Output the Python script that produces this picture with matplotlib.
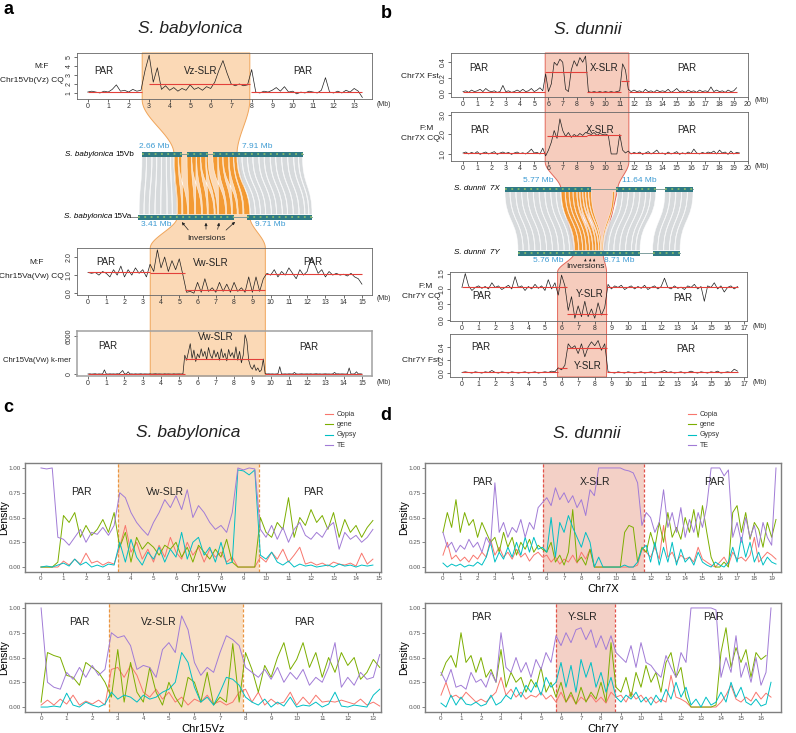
import numpy as np
import matplotlib
matplotlib.use("Agg")
import matplotlib.pyplot as plt
from matplotlib.patches import Polygon, PathPatch, Rectangle
from matplotlib.path import Path

plt.rcParams["font.family"] = ["Liberation Sans", "DejaVu Sans"]

W, H = 796, 733
RED = "#e3403a"
BLUE = "#3d9bd3"
TE_NAMES = ["Copia", "gene", "Gypsy", "TE"]
TE_COLORS = ["#F8766D", "#7CAE00", "#00BFC4", "#A17BD6"]

# ---------------- panel a tracks (step 0.2 Mb, k-mer step 0.1 Mb) ----------------
A1_CQ = [1.1, 1.2, 1.1, 1.0, 1.2, 1.1, 1.4, 1.9, 1.2, 1.3,
         1.1, 1.4, 1.2, 1.3, 3.5, 5.2, 2.2, 3.8, 1.4, 1.8,
         1.3, 1.6, 1.2, 1.5, 1.3, 1.9, 1.4, 1.6, 1.3, 1.7,
         1.5, 2.2, 3.5, 4.6, 3.2, 2.0, 1.8, 2.0, 1.8, 1.9,
         3.6, 1.1, 1.0, 1.2, 1.1, 1.3, 1.6, 1.2, 1.7, 1.1,
         1.2, 0.9, 1.1, 1.0, 1.2, 1.1, 1.0, 1.3, 2.7, 1.1,
         1.0, 1.2, 1.0, 1.3, 1.1, 1.5, 1.2, 0.5]
A1_MED = ([0.0, 3.0, 7.95], [2.65, 7.9, 13.4], [1.15, 2.05, 1.15])

A3_CQ = [1.15, 1.1, 1.15, 1.0, 1.2, 1.1, 0.9, 1.3, 1.0, 1.5,
         0.9, 1.3, 1.0, 1.4, 1.1, 1.3, 0.9, 1.6, 1.2, 2.4,
         1.4, 2.0, 1.2, 1.8, 1.3, 1.9, 1.0, 0.05, 0.1, 0.0,
         0.6, 0.05, 0.8, 0.1, 0.3, 0.05, 0.6, 0.1, 0.5, 0.05,
         0.6, 0.1, 0.3, 0.05, 0.9, 0.05, 0.9, 0.1, 0.8, 1.1,
         1.0, 1.3, 0.9, 1.2, 1.0, 1.4, 1.1, 0.8, 1.3, 1.0,
         1.2, 1.9, 1.6, 1.1, 1.3, 0.9, 1.2, 1.0, 1.1, 1.0,
         1.05, 0.95, 1.1, 0.9, 0.8, 0.5]
A3_MED = ([0.0, 3.41, 5.3, 9.71], [3.41, 5.3, 9.71, 15.0], [1.15, 1.1, 0.2, 1.05])

A4_KMER = [50, 80, 40, 60, 90, 30, 70, 50, 60, 700,
           60, 40, 80, 50, 70, 40, 90, 60, 300, 600,
           80, 50, 400, 60, 70, 40, 80, 50, 60, 90,
           40, 70, 60, 50, 80, 40, 60, 90, 50, 70,
           60, 40, 80, 50, 70, 60, 40, 80, 50, 60,
           70, 50, 80, 3000, 2200, 3500, 4800, 2500, 3800, 2000,
           3200, 2600, 4000, 2800, 3600, 2300, 4200, 3000, 2500, 3800,
           2700, 3500, 2200, 4000, 2600, 3300, 2100, 3900, 2800, 3400,
           2500, 4300, 2200, 3600, 1800, 3000, 6200, 5200, 2200, 1200,
           800, 1500, 600, 1000, 400, 700, 2400, 100, 60, 80,
           50, 70, 40, 60, 80, 1200, 60, 50, 70, 40,
           80, 60, 50, 300, 70, 40, 60, 80, 50, 60,
           70, 50, 80, 40, 60, 90, 50, 70, 40, 60,
           80, 50, 60, 40, 70, 300, 60, 80, 50, 70,
           60, 40, 80, 1000, 60, 50, 70, 400, 60, 80,
           50]
A4_MED = ([0.0, 5.3, 9.71], [5.3, 9.6, 15.0], [0, 2400, 0])

# ---------------- panel b tracks (step 0.2 Mb) ----------------
B1_FST = [0.02, 0.03, 0.01, 0.04, 0.02, 0.03, 0.05, 0.02, 0.06, 0.03,
          0.02, 0.03, 0.01, 0.02, 0.10, 0.02, 0.03, 0.01, 0.02, 0.04,
          0.02, 0.05, 0.02, 0.03, 0.06, 0.02, 0.04, 0.07, 0.03, 0.25,
          0.02, 0.12, 0.40, 0.36, 0.44, 0.40, 0.05, 0.02, 0.30, 0.42,
          0.35, 0.46, 0.40, 0.48, 0.02, 0.01, 0.02, 0.01, 0.02, 0.01,
          0.02, 0.01, 0.02, 0.01, 0.02, 0.03, 0.38, 0.30, 0.05, 0.02,
          0.04, 0.02, 0.03, 0.01, 0.05, 0.02, 0.03, 0.01, 0.04, 0.02,
          0.03, 0.02, 0.05, 0.01, 0.03, 0.06, 0.02, 0.03, 0.01, 0.04,
          0.02, 0.03, 0.01, 0.04, 0.02, 0.03, 0.02, 0.08, 0.02, 0.04,
          0.02, 0.03, 0.01, 0.04, 0.02, 0.03, 0.07]
B1_MED = ([0.0, 5.77, 8.7, 11.1, 11.64], [5.77, 8.7, 11.1, 11.64, 19.2],
          [0.02, 0.27, 0.02, 0.16, 0.02])

B2_CQ = [1.05, 1.1, 1.0, 1.08, 1.02, 1.12, 0.98, 1.05, 1.1, 1.0,
         1.06, 1.12, 0.98, 1.05, 1.1, 1.03, 1.08, 0.98, 1.05, 1.1,
         1.02, 1.06, 1.0, 1.1, 1.25, 1.05, 1.08, 1.0, 1.3, 0.9,
         1.2, 1.6, 2.2, 1.8, 2.8, 2.2, 1.9, 2.1, 1.85, 2.0,
         1.9, 2.05, 1.95, 2.1, 2.05, 2.0, 2.1, 1.95, 2.05, 2.0,
         2.02, 1.95, 1.0, 1.0, 1.0, 2.0, 1.2, 1.05, 1.15, 1.0,
         1.08, 1.02, 1.1, 0.98, 1.05, 1.12, 1.0, 1.08, 1.2, 1.02,
         1.05, 0.98, 1.1, 1.0, 1.05, 1.12, 0.98, 1.06, 1.0, 1.1,
         1.02, 1.25, 1.05, 1.0, 1.08, 1.02, 1.1, 1.05, 1.15, 1.0,
         1.2, 1.05, 1.1, 0.98, 1.15, 1.0, 1.08, 1.05]
B2_MED = ([0.0, 5.9, 8.7, 11.64], [5.77, 8.7, 11.1, 19.4], [1.05, 1.9, 1.97, 1.05])

B3_CQ = [1.05, 1.5, 1.1, 0.95, 1.05, 1.1, 1.02, 1.08, 1.0, 1.2,
         1.05, 1.1, 0.98, 1.05, 1.12, 1.0, 1.4, 1.05, 1.1, 0.95,
         1.08, 1.0, 1.15, 1.02, 1.1, 0.95, 1.3, 1.0, 1.2, 0.8,
         1.45, 1.1, 0.3, 0.75, 0.05, 0.45, 0.1, 0.6, 0.1, 0.35,
         0.05, 0.55, 0.15, 0.4, 1.15, 1.0, 1.1, 1.05, 1.12, 0.98,
         1.05, 1.1, 1.0, 1.08, 1.02, 1.12, 0.98, 1.05, 1.1, 1.0,
         1.08, 1.35, 1.05, 1.0, 1.1, 1.02, 1.06, 0.98, 1.1, 1.05,
         1.15, 1.0, 1.08, 0.6, 1.1, 1.05, 1.2, 1.0, 1.1, 0.9,
         1.05, 1.1, 1.0, 1.08]
B3_MED = ([0.0, 5.76, 6.3, 8.71], [5.76, 6.3, 8.71, 16.6], [1.07, 1.07, 0.2, 1.07])

B4_FST = [0.01, 0.02, 0.01, 0.0, 0.02, 0.01, 0.0, 0.02, 0.01, 0.04,
          0.01, 0.0, 0.02, 0.01, 0.0, 0.02, 0.01, 0.0, 0.01, 0.02,
          0.0, 0.01, 0.02, 0.0, 0.01, 0.02, 0.01, 0.03, 0.02, 0.08,
          0.05, 0.12, 0.45, 0.38, 0.42, 0.30, 0.45, 0.25, 0.40, 0.48,
          0.42, 0.50, 0.35, 0.45, 0.02, 0.01, 0.0, 0.02, 0.01, 0.0,
          0.02, 0.01, 0.0, 0.01, 0.02, 0.0, 0.01, 0.02, 0.0, 0.01,
          0.02, 0.04, 0.01, 0.02, 0.0, 0.01, 0.02, 0.0, 0.01, 0.03,
          0.01, 0.0, 0.02, 0.01, 0.0, 0.02, 0.01, 0.03, 0.0, 0.01,
          0.02, 0.01, 0.06, 0.03]
B4_MED = ([0.0, 5.76, 6.3, 8.71], [5.76, 6.3, 8.71, 16.6], [0.01, 0.08, 0.38, 0.01])

# ---------------- synteny (Mb) ----------------
VB_LEN, VA_LEN, X7_LEN, Y7_LEN = 13.4, 15.1, 19.4, 16.6
VB_SEGS = [(0.0, 3.3), (3.75, 5.5), (5.9, 13.4)]
VA_SEGS = [(0.0, 8.3), (9.5, 15.1)]
X7_SEGS = [(0.0, 8.9), (11.5, 15.6), (16.5, 19.4)]
Y7_SEGS = [(0.0, 12.5), (13.8, 16.6)]
A_GRAY = [(0.0, 0.35, 0.1, 0.5), (0.4, 0.8, 0.55, 0.95), (0.85, 1.2, 1.0, 1.45),
          (1.25, 1.6, 1.5, 1.95), (1.65, 2.0, 2.0, 2.5), (2.05, 2.35, 2.55, 2.95),
          (2.4, 2.64, 3.0, 3.38), (7.95, 8.3, 9.75, 10.15), (8.35, 8.75, 10.2, 10.6),
          (8.8, 9.2, 10.65, 11.05), (9.25, 9.7, 11.1, 11.55), (9.75, 10.15, 11.6, 12.0),
          (10.2, 10.65, 12.05, 12.5), (10.7, 11.1, 12.55, 12.95), (11.15, 11.6, 13.0, 13.45),
          (11.65, 12.1, 13.5, 13.95), (12.15, 12.6, 14.0, 14.45), (12.65, 13.0, 14.5, 14.8),
          (13.05, 13.35, 14.85, 15.1)]
A_ORANGE = [(2.7, 3.0, 3.45, 3.8), (3.05, 3.3, 4.3, 3.9), (3.75, 4.1, 4.4, 4.9),
            (4.15, 4.5, 5.5, 5.0), (4.55, 4.85, 5.6, 6.0), (4.9, 5.3, 6.6, 6.1),
            (5.35, 5.5, 6.7, 6.9), (5.9, 6.3, 7.6, 7.0), (6.35, 6.7, 7.7, 8.1),
            (6.75, 7.2, 8.6, 8.2), (7.25, 7.6, 8.7, 9.1), (7.65, 7.9, 9.2, 9.7)]
B_GRAY = [(0.0, 0.5, 0.0, 0.5), (0.55, 1.1, 0.55, 1.1), (1.15, 1.7, 1.15, 1.7),
          (1.75, 2.3, 1.75, 2.3), (2.35, 2.9, 2.35, 2.9), (2.95, 3.5, 2.95, 3.5),
          (3.55, 4.1, 3.55, 4.1), (4.15, 4.7, 4.15, 4.7), (4.75, 5.25, 4.75, 5.25),
          (5.3, 5.75, 5.3, 5.74), (11.6, 12.1, 8.75, 9.25), (12.15, 12.7, 9.3, 9.8),
          (12.75, 13.3, 9.85, 10.4), (13.35, 13.9, 10.45, 11.0), (13.95, 14.5, 11.05, 11.6),
          (14.55, 15.0, 11.65, 12.05), (15.05, 15.55, 12.1, 12.5), (16.5, 17.0, 13.8, 14.3),
          (17.05, 17.6, 14.35, 14.9), (17.65, 18.2, 14.95, 15.5), (18.25, 18.8, 15.55, 16.05),
          (18.85, 19.4, 16.1, 16.6)]
B_ORANGE = [(5.8, 6.2, 5.8, 6.2), (6.25, 6.6, 6.25, 6.6), (6.65, 7.0, 6.65, 6.95),
            (7.05, 7.4, 7.0, 7.3), (7.45, 7.7, 7.65, 7.35), (7.75, 8.0, 7.7, 7.95),
            (8.05, 8.3, 8.25, 8.0), (8.35, 8.6, 8.3, 8.45), (8.65, 8.9, 8.5, 8.6),
            (11.1, 11.3, 8.6, 8.7)]
INV_A = [3.65, 5.9, 7.1, 8.6]
INV_B = [6.9, 7.4, 7.8]

# ---------------- panels c, d: density (step 0.25 Mb) ----------------
C1_TE = [1.0, 0.99, 1.0, 0.30, 0.28, 0.22, 0.30, 0.38, 0.25, 0.35,
         0.33, 0.40, 0.32, 0.42, 0.75, 0.70, 0.55, 0.45, 0.38, 0.32,
         0.45, 0.55, 0.68, 0.60, 0.72, 0.58, 0.78, 0.50, 0.62, 0.55,
         0.45, 0.38, 0.42, 0.35, 0.55, 1.0, 0.98, 1.0, 0.99, 0.38,
         0.30, 0.42, 0.28, 0.40, 0.25, 0.38, 0.45, 0.32, 0.28, 0.35,
         0.30, 0.40, 0.45, 0.18, 0.35, 0.28, 0.32, 0.25, 0.30, 0.38]
C1_GENE = [0.0, 0.0, 0.0, 0.05, 0.52, 0.45, 0.55, 0.30, 0.42, 0.32,
           0.38, 0.48, 0.35, 0.55, 0.20, 0.35, 0.05, 0.30, 0.18, 0.25,
           0.20, 0.12, 0.22, 0.18, 0.25, 0.10, 0.20, 0.05, 0.22, 0.15,
           0.08, 0.18, 0.10, 0.28, 0.05, 0.0, 0.0, 0.0, 0.0, 0.50,
           0.35, 0.30, 0.45, 0.38, 0.70, 0.30, 0.50, 0.42, 0.58, 0.45,
           0.52, 0.38, 0.55, 0.30, 0.48, 0.35, 0.42, 0.30, 0.40, 0.47]
C1_COPIA = [0.0, 0.0, 0.0, 0.0, 0.06, 0.02, 0.08, 0.03, 0.14, 0.04,
            0.06, 0.02, 0.05, 0.03, 0.20, 0.42, 0.15, 0.25, 0.08, 0.18,
            0.05, 0.22, 0.10, 0.30, 0.15, 0.08, 0.25, 0.12, 0.20, 0.05,
            0.18, 0.10, 0.15, 0.05, 0.10, 0.0, 0.0, 0.0, 0.0, 0.10,
            0.05, 0.15, 0.08, 0.18, 0.05, 0.12, 0.20, 0.03, 0.05, 0.02,
            0.04, 0.01, 0.05, 0.03, 0.02, 0.04, 0.01, 0.14, 0.03, 0.08]
C1_GYPSY = [0.0, 0.01, 0.0, 0.02, 0.04, 0.01, 0.08, 0.02, 0.05, 0.0,
            0.02, 0.0, 0.03, 0.02, 0.25, 0.05, 0.28, 0.10, 0.02, 0.15,
            0.08, 0.20, 0.05, 0.18, 0.10, 0.35, 0.08, 0.25, 0.30, 0.12,
            0.20, 0.05, 0.25, 0.03, 0.05, 0.98, 0.97, 0.93, 0.98, 0.12,
            0.08, 0.15, 0.05, 0.02, 0.06, 0.0, 0.03, 0.01, 0.02, 0.0,
            0.01, 0.02, 0.0, 0.03, 0.01, 0.02, 0.0, 0.02, 0.01, 0.02]

C2_TE = [1.0, 0.25, 0.20, 0.18, 0.35, 0.28, 0.40, 0.30, 0.42, 0.32,
         0.38, 0.75, 0.70, 0.72, 0.62, 0.38, 0.42, 0.40, 0.30, 0.58,
         0.65, 0.55, 0.92, 0.78, 0.45, 0.32, 0.40, 0.35, 0.55, 0.72,
         0.68, 0.62, 0.40, 0.35, 0.30, 0.38, 0.28, 0.40, 0.25, 0.35,
         0.28, 0.38, 0.22, 0.30, 0.25, 0.40, 0.65, 0.20, 0.30, 0.22,
         0.35, 0.28, 0.30, 0.53]
C2_GENE = [0.05, 0.55, 0.52, 0.50, 0.32, 0.30, 0.22, 0.45, 0.40, 0.35,
           0.25, 0.10, 0.58, 0.05, 0.45, 0.15, 0.05, 0.40, 0.15, 0.02,
           0.25, 0.10, 0.0, 0.30, 0.25, 0.05, 0.35, 0.02, 0.10, 0.05,
           0.64, 0.05, 0.55, 0.38, 0.15, 0.42, 0.30, 0.50, 0.65, 0.38,
           0.48, 0.65, 0.40, 0.55, 0.30, 0.50, 0.35, 0.55, 0.42, 0.50,
           0.28, 0.35, 0.48, 0.40]
C2_COPIA = [0.02, 0.07, 0.02, 0.08, 0.03, 0.12, 0.02, 0.06, 0.03, 0.07,
            0.02, 0.38, 0.40, 0.30, 0.42, 0.32, 0.15, 0.10, 0.18, 0.08,
            0.15, 0.05, 0.10, 0.02, 0.08, 0.05, 0.12, 0.03, 0.06, 0.02,
            0.05, 0.15, 0.18, 0.05, 0.15, 0.02, 0.08, 0.03, 0.05, 0.15,
            0.02, 0.10, 0.03, 0.12, 0.05, 0.06, 0.05, 0.07, 0.05, 0.03,
            0.08, 0.02, 0.05, 0.01]
C2_GYPSY = [0.0, 0.0, 0.01, 0.0, 0.14, 0.02, 0.0, 0.05, 0.02, 0.0,
            0.03, 0.15, 0.08, 0.12, 0.10, 0.05, 0.12, 0.08, 0.10, 0.15,
            0.18, 0.25, 0.55, 0.45, 0.20, 0.05, 0.10, 0.02, 0.15, 0.30,
            0.28, 0.22, 0.10, 0.05, 0.02, 0.08, 0.0, 0.05, 0.01, 0.10,
            0.0, 0.02, 0.01, 0.05, 0.0, 0.03, 0.15, 0.01, 0.0, 0.02,
            0.01, 0.0, 0.12, 0.18]

D1_TE = [0.35, 0.20, 0.25, 0.15, 0.22, 0.18, 0.28, 0.20, 0.25, 0.15,
         0.30, 0.22, 0.85, 0.35, 0.45, 0.30, 0.40, 0.35, 0.48, 0.30,
         0.45, 0.38, 0.60, 0.65, 0.70, 0.62, 0.80, 0.68, 0.75, 0.65,
         0.72, 0.60, 0.68, 0.52, 0.78, 0.72, 1.0, 1.0, 1.0, 1.0,
         1.0, 1.0, 0.98, 0.97, 0.95, 0.85, 0.42, 0.55, 0.50, 0.35,
         0.45, 0.78, 0.40, 0.55, 0.35, 0.60, 0.30, 0.48, 0.35, 0.55,
         0.40, 0.62, 1.0, 1.0, 1.0, 0.92, 0.98, 0.30, 0.45, 0.25,
         0.50, 0.30, 0.42, 0.20, 0.45, 0.30, 0.22, 1.0]
D1_GENE = [0.35, 0.55, 0.40, 0.68, 0.35, 0.55, 0.42, 0.48, 0.30, 0.45,
           0.35, 0.25, 0.30, 0.15, 0.35, 0.20, 0.30, 0.12, 0.25, 0.18,
           0.28, 0.15, 0.22, 0.18, 0.15, 0.25, 0.05, 0.12, 0.02, 0.15,
           0.58, 0.05, 0.10, 0.02, 0.18, 0.0, 0.0, 0.0, 0.0, 0.0,
           0.0, 0.0, 0.35, 0.42, 0.40, 0.05, 0.20, 0.15, 0.35, 0.20,
           0.45, 0.25, 0.55, 0.30, 0.40, 0.28, 0.50, 0.35, 0.58, 0.30,
           0.62, 0.35, 0.10, 0.0, 0.0, 0.05, 0.0, 0.55, 0.62, 0.35,
           0.55, 0.28, 0.45, 0.38, 0.20, 0.45, 0.30, 0.48]
D1_COPIA = [0.12, 0.25, 0.08, 0.12, 0.06, 0.10, 0.05, 0.12, 0.08, 0.15,
            0.10, 0.28, 0.12, 0.20, 0.10, 0.15, 0.08, 0.18, 0.10, 0.14,
            0.06, 0.12, 0.15, 0.10, 0.12, 0.05, 0.10, 0.03, 0.08, 0.05,
            0.12, 0.04, 0.15, 0.08, 0.18, 0.0, 0.0, 0.0, 0.0, 0.0,
            0.0, 0.0, 0.0, 0.0, 0.0, 0.02, 0.18, 0.15, 0.10, 0.20,
            0.08, 0.42, 0.10, 0.15, 0.05, 0.12, 0.08, 0.10, 0.05, 0.20,
            0.08, 0.05, 0.02, 0.0, 0.05, 0.10, 0.02, 0.15, 0.08, 0.10,
            0.06, 0.12, 0.30, 0.05, 0.10, 0.15, 0.12, 0.08]
D1_GYPSY = [0.04, 0.0, 0.03, 0.01, 0.03, 0.0, 0.02, 0.01, 0.05, 0.02,
            0.10, 0.25, 0.05, 0.15, 0.08, 0.20, 0.10, 0.25, 0.12, 0.30,
            0.15, 0.30, 0.18, 0.20, 0.15, 0.50, 0.10, 0.45, 0.35, 0.52,
            0.40, 0.30, 0.20, 0.35, 0.25, 0.0, 0.10, 0.0, 0.0, 0.0,
            0.0, 0.0, 0.02, 0.0, 0.0, 0.05, 0.18, 0.22, 0.05, 0.25,
            0.02, 0.20, 0.05, 0.25, 0.02, 0.18, 0.05, 0.10, 0.02, 0.15,
            0.05, 0.02, 0.0, 0.05, 0.02, 0.0, 0.05, 0.20, 0.05, 0.30,
            0.10, 0.25, 0.05, 0.15, 0.02, 0.10, 0.05, 0.03]

D2_TE = [0.35, 0.25, 0.38, 0.20, 0.22, 0.18, 0.35, 0.25, 0.28, 0.20,
         0.35, 0.25, 0.75, 0.40, 0.35, 0.50, 0.35, 0.45, 0.30, 0.48,
         0.38, 0.55, 0.45, 0.72, 0.62, 0.75, 0.65, 0.78, 0.80, 0.68,
         0.78, 0.60, 0.72, 0.58, 0.72, 0.55, 0.50, 0.45, 0.62, 0.40,
         0.65, 0.45, 0.42, 0.35, 0.30, 0.52, 0.40, 0.30, 0.55, 0.45,
         1.0, 1.0, 1.0, 1.0, 1.0, 0.98, 0.30, 0.50, 0.35, 0.72,
         0.30, 0.45, 0.25, 0.50, 0.22, 0.35, 1.0]
D2_GENE = [0.32, 0.45, 0.52, 0.40, 0.75, 0.45, 0.52, 0.35, 0.50, 0.30,
           0.38, 0.25, 0.58, 0.20, 0.35, 0.25, 0.30, 0.15, 0.28, 0.20,
           0.40, 0.15, 0.25, 0.10, 0.25, 0.05, 0.15, 0.03, 0.20, 0.05,
           0.15, 0.08, 0.25, 0.05, 0.65, 0.20, 0.15, 0.30, 0.10, 0.35,
           0.20, 0.42, 0.25, 0.35, 0.15, 0.45, 0.55, 0.30, 0.40, 0.10,
           0.0, 0.0, 0.0, 0.0, 0.0, 0.02, 0.55, 0.80, 0.40, 0.60,
           0.45, 0.58, 0.30, 0.55, 0.48, 0.52]
D2_COPIA = [0.12, 0.25, 0.10, 0.12, 0.08, 0.15, 0.10, 0.05, 0.08, 0.05,
            0.10, 0.15, 0.30, 0.12, 0.18, 0.10, 0.15, 0.08, 0.12, 0.10,
            0.15, 0.08, 0.12, 0.05, 0.15, 0.05, 0.12, 0.03, 0.10, 0.06,
            0.12, 0.05, 0.10, 0.04, 0.15, 0.10, 0.12, 0.05, 0.15, 0.08,
            0.12, 0.05, 0.10, 0.04, 0.08, 0.05, 0.32, 0.10, 0.08, 0.05,
            0.0, 0.0, 0.0, 0.0, 0.0, 0.0, 0.05, 0.12, 0.22, 0.08,
            0.05, 0.10, 0.06, 0.15, 0.08, 0.14, 0.10]
D2_GYPSY = [0.04, 0.0, 0.12, 0.02, 0.10, 0.03, 0.02, 0.05, 0.01, 0.03,
            0.12, 0.02, 0.05, 0.12, 0.08, 0.20, 0.10, 0.22, 0.15, 0.25,
            0.12, 0.30, 0.20, 0.25, 0.45, 0.20, 0.42, 0.15, 0.48, 0.30,
            0.45, 0.20, 0.35, 0.15, 0.30, 0.10, 0.05, 0.12, 0.08, 0.15,
            0.05, 0.10, 0.02, 0.12, 0.05, 0.18, 0.08, 0.25, 0.10, 0.20,
            0.02, 0.08, 0.0, 0.10, 0.02, 0.05, 0.15, 0.05, 0.25, 0.10,
            0.20, 0.05, 0.02, 0.08, 0.01, 0.03, 0.25]


fig = plt.figure(figsize=(W / 100, H / 100), dpi=100)
ov = fig.add_axes([0, 0, 1, 1], zorder=0)
ov.set_xlim(0, W)
ov.set_ylim(H, 0)
ov.axis("off")


def rect(x0, y0, x1, y1):
    return [x0 / W, 1 - y1 / H, (x1 - x0) / W, (y1 - y0) / H]


def px(ax, x, y):
    dx, dy = ax.transData.transform((x, y))
    return dx, H - dy


def track(box, vals, step, xlim, ylim, xticks, yticks, ytl, med, labels,
          mb_xy, edge="#666666", elw=0.6):
    ax = fig.add_axes(rect(*box), zorder=2)
    ax.patch.set_alpha(0)
    xs = np.arange(len(vals)) * step
    ax.plot(xs, vals, color="#1e1e1e", lw=0.5)
    ax.hlines(med[2], med[0], med[1], color=RED, lw=0.8)
    ax.set_xlim(xlim)
    ax.set_ylim(ylim)
    ax.set_xticks(xticks)
    ax.set_yticks(yticks)
    ax.set_yticklabels(ytl, rotation=90, va="center")
    ax.tick_params(length=2, width=0.5, pad=1, labelsize=5, colors="#333333")
    for s in ax.spines.values():
        s.set_linewidth(elw)
        s.set_color(edge)
    for (tx, ty, s) in labels:
        ax.text(tx, ty, s, ha="center", va="center", fontsize=7, color="#222222")
    ov.text(mb_xy[0], mb_xy[1], "(Mb)", fontsize=5, ha="center", va="center", color="#333333")
    return ax


# ---------------- panel a ----------------
a1 = track((77, 53, 372, 99), A1_CQ, 0.2, (-0.52, 13.87), (0.33, 5.44), range(14),
           [1, 2, 3, 4, 5], ["1", "2", "3", "4", "5"], A1_MED,
           [(0.8, 3.4, "PAR"), (5.5, 3.4, "Vz-SLR"), (10.5, 3.4, "PAR")], (384, 104))
a3 = track((77, 248, 372, 295), A3_CQ, 0.2, (-0.6, 15.55), (-0.1, 2.5), range(16),
           [0, 1, 2], ["0.0", "1.0", "2.0"], A3_MED,
           [(1.0, 1.75, "PAR"), (6.7, 1.65, "Vw-SLR"), (12.3, 1.75, "PAR")], (384, 298))
a4 = track((77, 331, 372, 376), A4_KMER, 0.1, (-0.6, 15.55), (-260, 6780), range(16),
           [0, 6000], ["0", "6000"], A4_MED,
           [(1.1, 4400, "PAR"), (7.0, 5800, "Vw-SLR"), (12.1, 4300, "PAR")], (384, 382),
           edge="#a0a0a0", elw=1.1)

# ---------------- panel b ----------------
b1 = track((451, 53, 748, 97), B1_FST, 0.2, (-0.84, 19.93), (-0.05, 0.52), range(21),
           [0, 0.2, 0.4], ["0.0", "0.2", "0.4"], B1_MED,
           [(1.1, 0.32, "PAR"), (9.9, 0.32, "X-SLR"), (15.7, 0.32, "PAR")], (762, 101))
b2 = track((451, 112, 748, 161), B2_CQ, 0.2, (-0.84, 19.93), (0.64, 3.15), range(21),
           [1, 2, 3], ["1.0", "2.0", "3.0"], B2_MED,
           [(1.2, 2.25, "PAR"), (9.6, 2.25, "X-SLR"), (15.7, 2.25, "PAR")], (762, 167))
b3 = track((450, 272, 747, 321), B3_CQ, 0.2, (-0.72, 17.17), (-0.04, 1.55), range(18),
           [0, 0.5, 1.0, 1.5], ["0.0", "0.5", "1.0", "1.5"], B3_MED,
           [(1.2, 0.77, "PAR"), (7.7, 0.83, "Y-SLR"), (13.3, 0.7, "PAR")], (760, 326))
b4 = track((450, 334, 747, 377), B4_FST, 0.2, (-0.72, 17.17), (-0.06, 0.6), range(18),
           [0, 0.2, 0.4], ["0.0", "0.2", "0.4"], B4_MED,
           [(1.15, 0.4, "PAR"), (7.6, 0.11, "Y-SLR"), (13.5, 0.37, "PAR")], (760, 382))

# track y labels
for (x, y, s, ha, fs) in [(42, 67, "M:F", "center", 6), (64, 81, "Chr15Vb(Vz) CQ", "right", 6),
                          (37, 263, "M:F", "center", 6), (64, 277, "Chr15Va(Vw) CQ", "right", 6),
                          (71, 360, "Chr15Va(Vw) k-mer", "right", 5.6),
                          (439, 76, "Chr7X Fst", "right", 6), (427, 128, "F:M", "center", 6),
                          (440, 138, "Chr7X CQ", "right", 6), (426, 286, "F:M", "center", 6),
                          (440, 296, "Chr7Y CQ", "right", 6), (439, 360, "Chr7Y Fst", "right", 6)]:
    ov.text(x, y, s, fontsize=fs, ha=ha, va="center", color="#222222")

# ---------------- synteny ----------------
VB = (142, (303 - 142) / VB_LEN, 154)
VA = (138, (312 - 138) / VA_LEN, 217)
X7 = (505, (693 - 505) / X7_LEN, 189)
Y7 = (518, (680 - 518) / Y7_LEN, 253)


def cx(chrom, mb):
    return chrom[0] + mb * chrom[1]


def ease(p0, p1, n=30):
    t = np.linspace(0, 1, n)
    s = t * t * (3 - 2 * t)
    return list(zip(p0[0] + (p1[0] - p0[0]) * s, p0[1] + (p1[1] - p0[1]) * t))


def hourglass(ax_top, ax_neck, ax_low, ax_bot, top_chr, bot_chr, span_top, span_low,
              face, edge):
    y_top = px(ax_top, 0, ax_top.get_ylim()[1])[1]
    y_neck = px(ax_neck, 0, ax_neck.get_ylim()[0])[1] + 1
    y_low = px(ax_low, 0, ax_low.get_ylim()[1])[1]
    y_bot = px(ax_bot, 0, ax_bot.get_ylim()[0])[1]
    sides = []
    for k in (0, 1):
        xt = px(ax_top, span_top[k], 0)[0]
        xl = px(ax_low, span_low[k], 0)[0]
        pts = [(xt, y_top), (xt, y_neck)]
        pts += ease((xt, y_neck), (cx(top_chr, span_top[k]), top_chr[2]))
        pts += ease((cx(bot_chr, span_low[k]), bot_chr[2]), (xl, y_low))
        pts.append((xl, y_bot))
        sides.append(pts)
    poly = sides[0] + sides[1][::-1]
    ov.add_patch(Polygon(poly, closed=True, fc=face, ec=edge, lw=0.7, zorder=1))


hourglass(a1, a1, a3, a4, VB, VA, (2.66, 7.91), (3.41, 9.71), "#fbd9b6", "#f0a55a")
hourglass(b1, b2, b3, b4, X7, Y7, (5.77, 11.64), (5.76, 8.71), "#f6ccbd", "#e3675a")


def ribbon(top, bot, blk, color, alpha):
    t0, t1, b0, b1_ = cx(top, blk[0]), cx(top, blk[1]), cx(bot, blk[2]), cx(bot, blk[3])
    yt, yb = top[2] + 2.5, bot[2] - 2.5
    ym = (yt + yb) / 2
    verts = [(t0, yt), (t0, ym), (b0, ym), (b0, yb), (b1_, yb), (b1_, ym), (t1, ym),
             (t1, yt), (t0, yt)]
    codes = [Path.MOVETO, Path.CURVE4, Path.CURVE4, Path.CURVE4, Path.LINETO,
             Path.CURVE4, Path.CURVE4, Path.CURVE4, Path.CLOSEPOLY]
    ov.add_patch(PathPatch(Path(verts, codes), fc=color, ec="white", lw=0.35,
                           alpha=alpha, zorder=2))


for blk in A_GRAY:
    ribbon(VB, VA, blk, "#d3d6d9", 0.9)
for blk in A_ORANGE:
    ribbon(VB, VA, blk, "#f39425", 0.9)
for blk in B_GRAY:
    ribbon(X7, Y7, blk, "#d3d6d9", 0.9)
for blk in B_ORANGE:
    ribbon(X7, Y7, blk, "#f39425", 0.9)


def chrom_bar(chrom, segs, length):
    y = chrom[2]
    ov.plot([cx(chrom, 0), cx(chrom, length)], [y, y], color="#6d9090", lw=0.6, zorder=3)
    for s, e in segs:
        ov.add_patch(Rectangle((cx(chrom, s), y - 2.5), (e - s) * chrom[1], 5,
                               fc="#2f7a84", ec="none", zorder=3))
        ov.plot([cx(chrom, s), cx(chrom, e)], [y, y], color="#86bb6c", lw=1.3,
                dashes=(1, 2.5), zorder=4)


chrom_bar(VB, VB_SEGS, VB_LEN)
chrom_bar(VA, VA_SEGS, VA_LEN)
chrom_bar(X7, X7_SEGS, X7_LEN)
chrom_bar(Y7, Y7_SEGS, Y7_LEN)

ov.text(113, 154, "S. babylonica", style="italic", fontsize=5.8, ha="right", va="center")
ov.text(115, 154, "15Vb", fontsize=5.8, ha="left", va="center")
ov.text(112, 217, "S. babylonica", style="italic", fontsize=5.8, ha="right", va="center")
ov.text(113, 217, "15Va", fontsize=5.8, ha="left", va="center")
ov.plot([131, 138], [217, 217], color="#555555", lw=0.5)
ov.text(500, 189, "S. dunnii  7X", style="italic", fontsize=5.8, ha="right", va="center")
ov.text(500, 253, "S. dunnii  7Y", style="italic", fontsize=5.8, ha="right", va="center")

for (x, y, s) in [(154, 146, "2.66 Mb"), (257, 146, "7.91 Mb"), (156, 224, "3.41 Mb"),
                  (270, 224, "9.71 Mb"), (538, 181, "5.77 Mb"), (639, 181, "11.64 Mb"),
                  (548, 260, "5.76 Mb"), (619, 260, "8.71 Mb")]:
    ov.text(x, y, s, color=BLUE, fontsize=6, ha="center", va="center")

ov.text(206, 238, "Inversions", fontsize=6, ha="center", va="center", color="#222222")
for mb, tail in zip(INV_A, [190, 206, 217, 224]):
    ov.annotate("", xy=(cx(VA, mb), 220), xytext=(tail, 232),
                arrowprops=dict(arrowstyle="-|>", color="#222222", lw=0.5,
                                mutation_scale=4))
ov.text(585, 267, "Inversions", fontsize=6, ha="center", va="center", color="#222222")
for mb in INV_B:
    ov.annotate("", xy=(cx(Y7, mb), 256), xytext=(cx(Y7, mb), 262),
                arrowprops=dict(arrowstyle="-|>", color="#222222", lw=0.4,
                                mutation_scale=3))


# ---------------- panels c, d ----------------
def density(box, series, xlim, xticks, xlabel, span, fill, edge, labels):
    ax = fig.add_axes(rect(*box), zorder=2)
    ax.axvspan(span[0], span[1], color=fill, lw=0, zorder=0)
    for v in span:
        ax.axvline(v, color=edge, lw=0.9, ls=(0, (2.5, 1.5)), zorder=1)
    for vals, col in zip(series, TE_COLORS):
        ax.plot(np.arange(len(vals)) * 0.25, vals, color=col, lw=0.7, zorder=2)
    ax.set_xlim(xlim)
    ax.set_ylim(-0.05, 1.05)
    ax.set_xticks(xticks)
    ax.set_yticks([0, 0.25, 0.5, 0.75, 1.0])
    ax.set_yticklabels(["0.00", "0.25", "0.50", "0.75", "1.00"])
    ax.tick_params(length=2, width=0.5, pad=1, labelsize=4.5, colors="#555555")
    for s in ax.spines.values():
        s.set_linewidth(1.0)
        s.set_color("#7f7f7f")
    ax.set_xlabel(xlabel, fontsize=8, labelpad=2)
    ax.set_ylabel("Density", fontsize=7.5)
    ax.yaxis.set_label_coords(-0.045, 0.5)
    for (tx, ty, s) in labels:
        ax.text(tx, ty, s, ha="center", va="center", fontsize=7.5, color="#222222")
    return ax


density((25, 463, 381, 572), [C1_COPIA, C1_GENE, C1_GYPSY, C1_TE], (-0.71, 15.11),
        range(16), "Chr15Vw", (3.41, 9.71), "#f8dfc5", "#ea9440",
        [(1.8, 0.76, "PAR"), (5.5, 0.76, "Vw-SLR"), (12.1, 0.76, "PAR")])
density((25, 603, 381, 712), [C2_COPIA, C2_GENE, C2_GYPSY, C2_TE], (-0.63, 13.3),
        range(14), "Chr15Vz", (2.66, 7.91), "#f8dfc5", "#ea9440",
        [(1.5, 0.86, "PAR"), (4.6, 0.86, "Vz-SLR"), (10.3, 0.86, "PAR")])
density((425, 463, 781, 572), [D1_COPIA, D1_GENE, D1_GYPSY, D1_TE], (-1.04, 19.54),
        range(20), "Chr7X", (5.77, 11.64), "#f3d0c6", "#e2524a",
        [(2.3, 0.86, "PAR"), (8.8, 0.86, "X-SLR"), (15.7, 0.86, "PAR")])
density((425, 603, 781, 712), [D2_COPIA, D2_GENE, D2_GYPSY, D2_TE], (-0.8, 17.0),
        range(17), "Chr7Y", (5.76, 8.71), "#f3d0c6", "#e2524a",
        [(2.0, 0.91, "PAR"), (7.1, 0.91, "Y-SLR"), (13.6, 0.91, "PAR")])

# legends
for lx in (325, 688):
    for i, (name, col) in enumerate(zip(TE_NAMES, TE_COLORS)):
        y = 414 + i * 10.4
        ov.plot([lx, lx + 8], [y, y], color=col, lw=0.8)
        ov.text(lx + 12, y, name, fontsize=5, va="center", ha="left", color="#333333")

# titles and panel letters
for (x, y, s) in [(190, 29, "S. babylonica"), (588, 29, "S. dunnii"),
                  (188, 432, "S. babylonica"), (587, 433, "S. dunnii")]:
    ov.text(x, y, s, style="italic", fontsize=12.5, ha="center", va="center", color="#222222")
for (x, y, s) in [(8, 9, "a"), (386, 13, "b"), (8, 408, "c"), (386, 415, "d")]:
    ov.text(x, y, s, fontsize=13, fontweight="bold", ha="center", va="center")

fig.savefig("out.png", dpi=100)
